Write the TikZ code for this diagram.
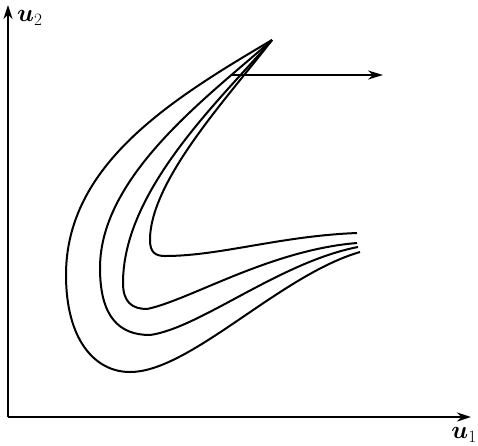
\documentclass[tikz,border=0pt]{standalone}
\usepackage{amsmath,amssymb}
\usetikzlibrary{arrows.meta}

\begin{document}
\begin{tikzpicture}[
    x=1pt, y=-1pt,
    axis/.style={-{Stealth[length=14pt,width=9pt]}, line width=2.4pt},
    curve/.style={line width=2pt, line join=round},
    arrow/.style={-{Stealth[length=15pt,width=9pt]}, line width=2pt},
    lbl/.style={font=\fontsize{24}{28}\selectfont, inner sep=0pt}
]
    \useasboundingbox (0,0) rectangle (478,445);

    % Axes
    \coordinate (origin) at (8,417);
    \coordinate (u2end) at (8,5);
    \coordinate (u1end) at (471,417);
    \draw[axis] (origin) -- (u2end);
    \draw[axis] (origin) -- (u1end);
    \node[lbl, anchor=west] (u2) at (17,18) {$\boldsymbol{u}_2$};
    \node[lbl, anchor=north east] (u1) at (477,427) {$\boldsymbol{u}_1$};

    % Level curves meeting at the tip
    \coordinate (tip) at (272,40);
    \draw[curve] (tip) .. controls (170,100) and (66,165) .. (66,275)
        .. controls (66,340) and (95,372) .. (130,372)
        .. controls (190,372) and (280,275) .. (360,252);
    \draw[curve] (tip) .. controls (210,95) and (100,175) .. (100,268)
        .. controls (100,318) and (120,335) .. (150,335)
        .. controls (200,328) and (280,262) .. (358,247);
    \draw[curve] (tip) .. controls (220,100) and (123,190) .. (123,283)
        .. controls (123,302) and (132,309) .. (147,309)
        .. controls (190,300) and (270,250) .. (357,243);
    \draw[curve] (tip) .. controls (230,95) and (150,180) .. (150,240)
        .. controls (150,252) and (155,256) .. (165,256)
        .. controls (220,256) and (280,236) .. (357,233);

    % Direction arrow
    \coordinate (arrowstart) at (232,75);
    \coordinate (arrowend) at (383,75);
    \draw[arrow] (arrowstart) -- (arrowend);
\end{tikzpicture}
\end{document}
